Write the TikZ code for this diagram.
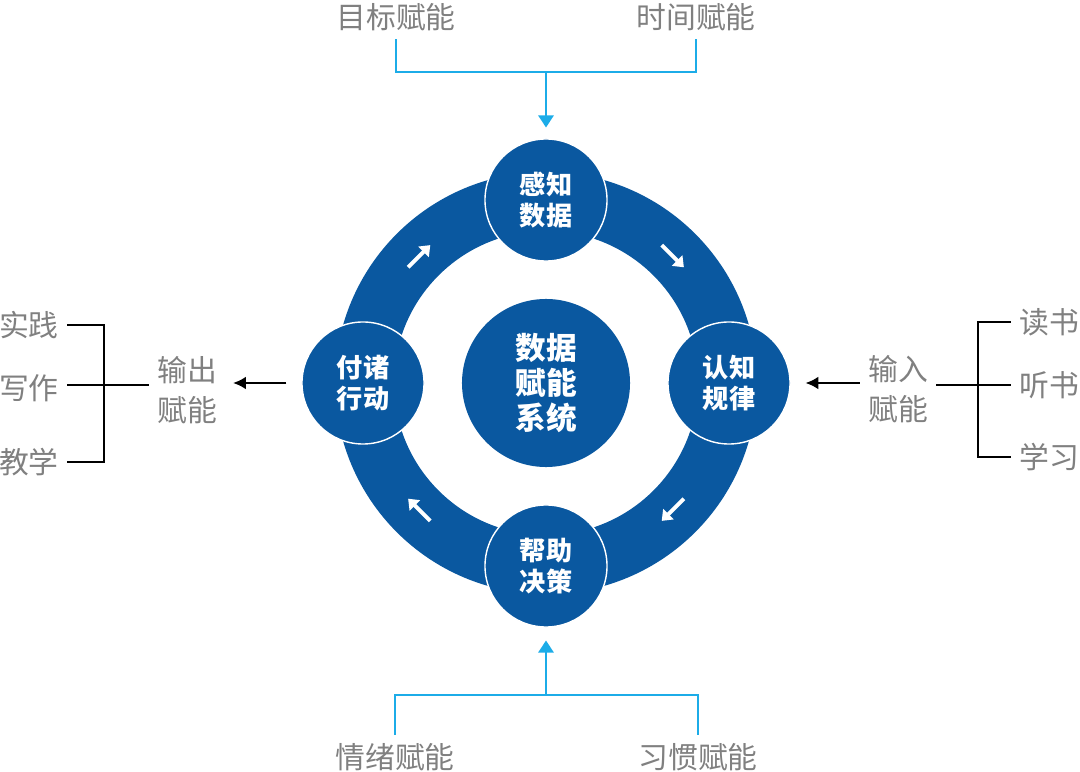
\documentclass[tikz,border=0pt]{standalone}
\usepackage{fontspec}
\setmainfont{Noto Sans CJK SC}
\usetikzlibrary{positioning,calc,arrows.meta}
\definecolor{ringblue}{RGB}{10,88,160}
\definecolor{linkblue}{RGB}{28,172,232}
\definecolor{labelgray}{RGB}{128,128,128}
\tikzset{
    cycle/.style={
        x=0.025cm, y=0.025cm,
        % Cerchi sull'anello
        stage/.style={circle, fill=ringblue, draw=white, line width=1pt,
                      minimum size=3.05cm, inner sep=0pt, align=center,
                      text=white, font=\bfseries\fontsize{18.6}{22}\selectfont},
        % Cerchio centrale
        hub/.style={circle, fill=ringblue, minimum size=4.2cm, inner sep=0pt,
                    align=center, text=white,
                    font=\bfseries\fontsize{21.8}{25}\selectfont},
        % Etichette grigie
        tag/.style={text=labelgray, inner sep=0.2cm, align=center,
                    font=\fontsize{21.2}{28.5}\selectfont},
        % Linee
        feed/.style={draw=linkblue, line width=1.6pt},
        brace/.style={draw=black, line width=1.6pt},
        push/.style={draw=black, line width=1.5pt, -{Latex[length=0.32cm,width=0.32cm]}},
        turn/.style={draw=white, line width=0.1cm, -{Triangle[length=0.24cm,width=0.36cm]}}
    }
}
\begin{document}
\begin{tikzpicture}[cycle]
  \useasboundingbox (0,0) rectangle (1080,771);
  \coordinate (c) at (546,388);

  % Anello
  \fill[ringblue, even odd rule] (c) circle[radius=211] (c) circle[radius=152];
  \foreach \a in {45,135,225,315}
    \draw[turn] ($(c)+(\a+5:180)$) -- ($(c)+(\a-5:180)$);

  % Nodi
  \node[hub] (hub) at (c) {数据\\赋能\\系统};
  \node[stage] (perceive) at (546,571) {感知\\数据};
  \node[stage] (rules) at (729,388) {认知\\规律};
  \node[stage] (decide) at (546,205) {帮助\\决策};
  \node[stage] (act) at (363,388) {付诸\\行动};

  \node[tag] (goal) at (396,754) {目标赋能};
  \node[tag] (time) at (696,754) {时间赋能};
  \node[tag] (mood) at (395,14) {情绪赋能};
  \node[tag] (habit) at (698,14) {习惯赋能};

  \node[tag] (outp) at (187,381) {输出\\赋能};
  \node[tag] (practice) at (29,446) {实践};
  \node[tag] (write) at (29,383) {写作};
  \node[tag] (teach) at (29,309) {教学};

  \node[tag] (inp) at (898,382) {输入\\赋能};
  \node[tag] (read) at (1049,449) {读书};
  \node[tag] (listen) at (1049,386) {听书};
  \node[tag] (learn) at (1049,314) {学习};

  % Sopra e sotto
  \coordinate (topjoin) at (546,699);
  \coordinate (botjoin) at (546,76);
  \draw[feed] (goal.south) |- (topjoin) -| (time.south);
  \draw[feed, -{Triangle[length=0.3cm,width=0.38cm]}, shorten >=0.27cm] (topjoin) -- (perceive.north);
  \draw[feed] (mood.north) |- (botjoin) -| (habit.north);
  \draw[feed, -{Triangle[length=0.3cm,width=0.38cm]}, shorten >=0.32cm] (botjoin) -- (decide.south);

  % Sinistra
  \coordinate (lfork) at (104,386);
  \draw[brace] (practice.east) -| (lfork);
  \draw[brace] (teach.east) -| (lfork);
  \draw[brace] (write.east |- lfork) -- (lfork) -- (lfork -| outp.west);
  \draw[push, shorten <=0.37cm, shorten >=0.2cm] (act.west) -- (act.west -| outp.east);

  % Destra
  \coordinate (rfork) at (978,386);
  \draw[brace] (read.west) -| (rfork);
  \draw[brace] (learn.west) -| (rfork);
  \draw[brace] (inp.east |- rfork) -- (rfork) -- (listen.west);
  \draw[push, shorten >=0.37cm] (inp.west |- rules.east) -- (rules.east);
\end{tikzpicture}
\end{document}
